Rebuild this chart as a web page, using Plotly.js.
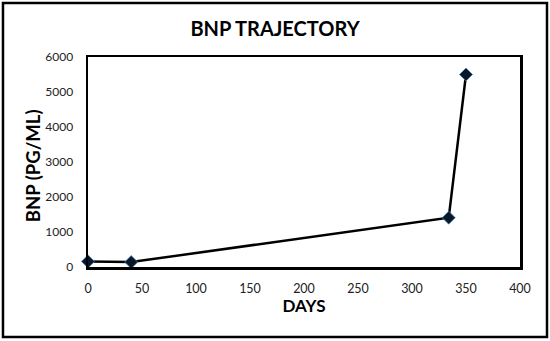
<!DOCTYPE html>
<html>
<head>
<meta charset="utf-8">
<script src="https://cdn.plot.ly/plotly-3.0.1.min.js"></script>
<style>
  html, body { margin: 0; padding: 0; background: #fff; }
  #chart { width: 550px; height: 341px; }
</style>
</head>
<body>
<div id="chart"></div>
<script>
// BNP values
const days = [0, 40, 334, 350];
const bnp = [160, 140, 1410, 5500];
const xTicks = [0, 50, 100, 150, 200, 250, 300, 350, 400];
const yTicks = [0, 1000, 2000, 3000, 4000, 5000, 6000];

const trace = {
  x: days,
  y: bnp,
  type: 'scatter',
  mode: 'lines+markers',
  line: { color: '#000000', width: 2.5 },
  marker: {
    symbol: 'diamond',
    size: 10,
    color: '#0b1626',
    line: { color: '#3a86c8', width: 0.8 }
  },
  cliponaxis: false,
  hoverinfo: 'skip'
};

const font = 'Lato, "Open Sans", "Liberation Sans", sans-serif';

const layout = {
  width: 550,
  height: 341,
  margin: { l: 88, r: 30, t: 57, b: 74 },
  paper_bgcolor: '#ffffff',
  plot_bgcolor: '#ffffff',
  showlegend: false,
  font: { family: font, color: '#222', size: 12 },
  title: {
    text: '<b>BNP TRAJECTORY</b>',
    font: { family: font, size: 20, color: '#000' },
    x: 0.5, xanchor: 'center',
    y: 0.915, yanchor: 'middle'
  },
  xaxis: {
    range: [0, 400],
    tickvals: xTicks,
    ticktext: xTicks.map(String),
    showgrid: false,
    zeroline: false,
    showline: true,
    mirror: true,
    linecolor: '#000',
    linewidth: 2.5,
    ticks: '',
    ticklabelstandoff: 8,
    tickfont: { size: 12.5, color: '#222' },
    title: { text: '<b>DAYS</b>', font: { size: 17, color: '#000' }, standoff: 6 }
  },
  yaxis: {
    range: [0, 6000],
    tickvals: yTicks,
    ticktext: yTicks.map(String),
    showgrid: false,
    zeroline: false,
    showline: true,
    mirror: true,
    linecolor: '#000',
    linewidth: 2.5,
    ticks: '',
    ticklabelstandoff: 10,
    tickfont: { size: 12, color: '#222' }
  },
  annotations: [{
    text: '<b>BNP (PG/ML)</b>',
    xref: 'paper', yref: 'paper',
    x: -0.127, y: 0.481,
    xanchor: 'center', yanchor: 'middle',
    textangle: -90,
    showarrow: false,
    font: { family: font, size: 18.5, color: '#000' }
  }],
  shapes: [{
    type: 'rect',
    xref: 'paper', yref: 'paper',
    x0: -0.1968, x1: 1.0625,
    y0: -0.3333, y1: 1.257,
    line: { color: '#000', width: 2.5 },
    fillcolor: 'rgba(0,0,0,0)'
  }]
};

Plotly.newPlot('chart', [trace], layout, { displayModeBar: false, staticPlot: true });
</script>
</body>
</html>
